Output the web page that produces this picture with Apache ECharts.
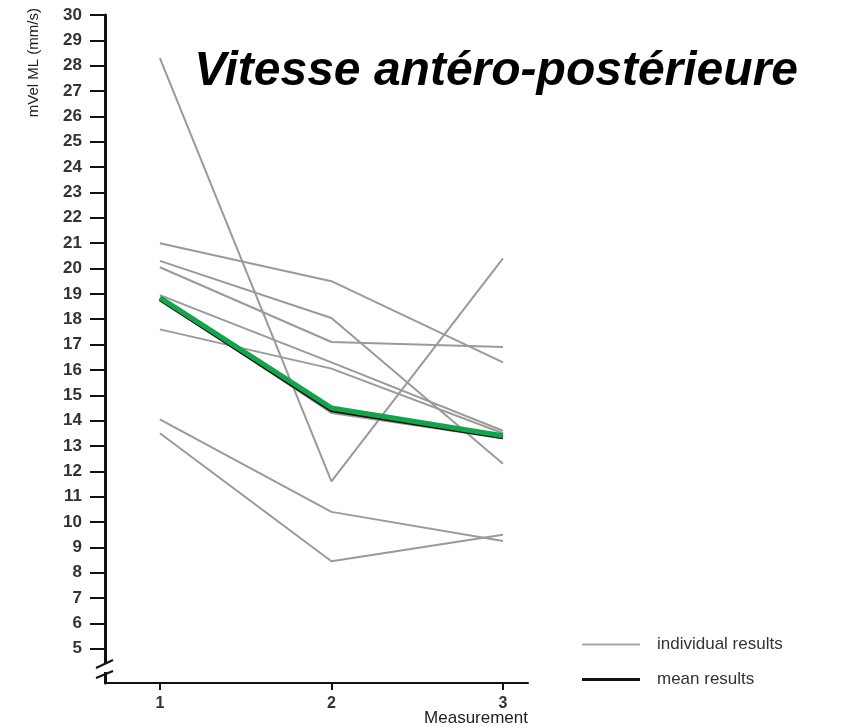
<!DOCTYPE html>
<html>
<head>
<meta charset="utf-8">
<script src="https://cdn.jsdelivr.net/npm/echarts@6/dist/echarts.min.js"></script>
<style>
  html, body { margin: 0; padding: 0; background: #fff; }
  #chart { width: 864px; height: 727px; }
</style>
</head>
<body>
<div id="chart"></div>
<script>
// measurement index on the x axis
const measurements = [1, 2, 3];

// one row per subject (mVel ML, mm/s) at measurements 1, 2, 3
const subject1 = [28.3, 11.6, 20.4];
const subject2 = [21.0, 19.5, 16.3];
const subject3 = [20.3, 18.05, 12.3];
const subject4 = [20.05, 17.1, 16.9];
const subject5 = [18.95, 16.3, 13.6];
const subject6 = [17.6, 16.05, 13.5];
const subject7 = [18.8, 14.3, 13.3];
const subject8 = [14.05, 10.4, 9.25];
const subject9 = [13.5, 8.45, 9.5];
const individualResults = [subject1, subject2, subject3, subject4, subject5, subject6, subject7, subject8, subject9];

const meanResults = [18.78, 14.4, 13.33];
const meanHighlight = [18.85, 14.5, 13.4];

const yTicks = [5, 6, 7, 8, 9, 10, 11, 12, 13, 14, 15, 16, 17, 18, 19, 20, 21, 22, 23, 24, 25, 26, 27, 28, 29, 30];
const xTicks = [1, 2, 3];

const FONT = "'Liberation Sans', Arial, sans-serif";
const toPoints = (vals) => measurements.map((m, i) => [m, vals[i]]);

const chart = echarts.init(document.getElementById("chart"));

const series = individualResults.map((vals) => ({
  name: "individual results",
  type: "line",
  data: toPoints(vals),
  symbol: "none",
  silent: true,
  z: 2,
  itemStyle: { color: "#9a9a9a" },
  lineStyle: { color: "#9a9a9a", width: 2 },
}));

series.push({
  name: "mean results",
  type: "line",
  data: toPoints(meanResults),
  symbol: "none",
  z: 3,
  itemStyle: { color: "#111" },
  lineStyle: { color: "#111", width: 3.5 },
});

series.push({
  name: "mean (highlight)",
  type: "line",
  data: toPoints(meanHighlight),
  symbol: "none",
  z: 4,
  itemStyle: { color: "#12a54b" },
  lineStyle: { color: "#12a54b", width: 5 },
});

const option = {
  animation: false,
  backgroundColor: "#fff",
  title: {
    text: "Vitesse antéro-postérieure",
    right: 66,
    top: 48,
    padding: 0,
    textStyle: {
      fontFamily: FONT,
      fontSize: 48,
      fontWeight: "bold",
      fontStyle: "italic",
      color: "#000",
    },
  },
  legend: [
    {
      data: [{ name: "individual results", icon: "rect", itemStyle: { color: "#a8a8a8" } }],
      left: 582,
      top: 636,
      padding: 0,
      itemWidth: 58,
      itemHeight: 2,
      selectedMode: false,
      textStyle: { fontFamily: FONT, fontSize: 17, color: "#333", padding: [0, 0, 0, 12] },
    },
    {
      data: [{ name: "mean results", icon: "rect", itemStyle: { color: "#111" } }],
      left: 582,
      top: 671,
      padding: 0,
      itemWidth: 58,
      itemHeight: 3,
      selectedMode: false,
      textStyle: { fontFamily: FONT, fontSize: 17, color: "#333", padding: [0, 0, 0, 12] },
    },
  ],
  grid: {
    left: 105,
    right: 336,
    top: 15,
    bottom: 44,
  },
  xAxis: {
    type: "value",
    min: 0.68,
    max: 3.146,
    name: "Measurement",
    nameLocation: "end",
    nameGap: 0,
    nameMoveOverlap: false,
    nameTextStyle: {
      fontFamily: FONT,
      fontSize: 17,
      color: "#222",
      align: "right",
      verticalAlign: "top",
      padding: [27, 0, 0, 0],
    },
    axisLine: { lineStyle: { color: "#111", width: 2 } },
    axisTick: { customValues: xTicks, length: 7, lineStyle: { color: "#111", width: 2 } },
    axisLabel: {
      customValues: xTicks,
      margin: 13,
      fontFamily: FONT,
      fontSize: 16,
      fontWeight: "bold",
      color: "#333",
    },
    splitLine: { show: false },
  },
  yAxis: {
    type: "value",
    min: 3.65,
    max: 30,
    name: "mVel ML (mm/s)",
    nameLocation: "end",
    nameGap: 7,
    nameRotate: 90,
    nameMoveOverlap: false,
    nameTextStyle: {
      fontFamily: FONT,
      fontSize: 15,
      color: "#222",
      align: "right",
      verticalAlign: "bottom",
      padding: [0, 0, 64, 0],
    },
    axisLine: { lineStyle: { color: "#111", width: 3 } },
    axisTick: { customValues: yTicks, length: 15, lineStyle: { color: "#111", width: 2 } },
    axisLabel: {
      customValues: yTicks,
      margin: 23,
      fontFamily: FONT,
      fontSize: 17,
      fontWeight: "bold",
      color: "#333",
    },
    splitLine: { show: false },
  },
  // axis break marks near the bottom of the y axis
  graphic: [
    { type: "rect", z: 100, shape: { x: 100, y: 663, width: 10, height: 9 }, style: { fill: "#fff" } },
    { type: "line", z: 101, shape: { x1: 96, y1: 668, x2: 113, y2: 660 }, style: { stroke: "#111", lineWidth: 2 } },
    { type: "line", z: 101, shape: { x1: 96, y1: 678, x2: 113, y2: 671 }, style: { stroke: "#111", lineWidth: 2 } },
  ],
  series: series,
};

chart.setOption(option);
</script>
</body>
</html>
